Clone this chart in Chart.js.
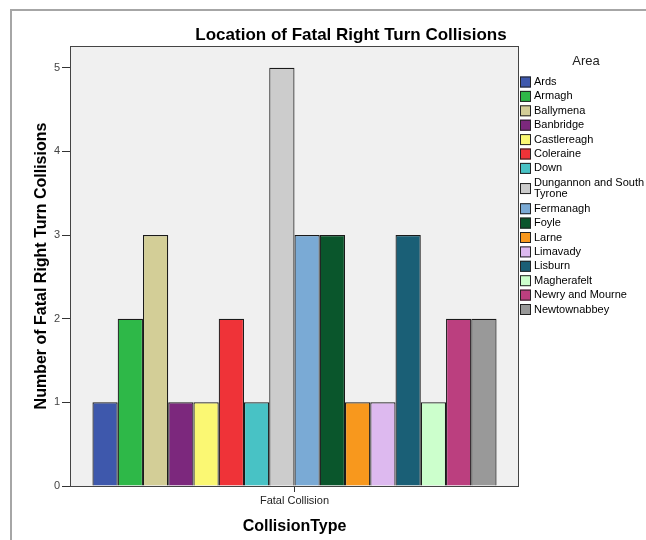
<!DOCTYPE html>
<html>
<head>
<meta charset="utf-8">
<script src="https://cdn.jsdelivr.net/npm/chart.js@4.4.1/dist/chart.umd.min.js"></script>
<style>
  body { margin: 0; background: #fff; }
  #wrap { width: 646px; height: 540px; }
</style>
</head>
<body>
<div id="wrap"><canvas id="miGrafico" width="646" height="540"></canvas></div>
<script>
// datos
const categorias = ['Fatal Collision'];
const areas = ['Ards', 'Armagh', 'Ballymena', 'Banbridge', 'Castlereagh', 'Coleraine', 'Down',
    'Dungannon and South Tyrone', 'Fermanagh', 'Foyle', 'Larne', 'Limavady', 'Lisburn',
    'Magherafelt', 'Newry and Mourne', 'Newtownabbey'];
const colisiones = [1, 2, 3, 1, 1, 2, 1, 5, 3, 3, 1, 1, 3, 1, 2, 2];
const ticksY = [0, 1, 2, 3, 4, 5];

const coloresArea = ['#3E58AC', '#2EB848', '#D3CE97', '#7C287D', '#FBF873', '#EF3338', '#48C2C5',
    '#CCCCCC', '#7AAAD5', '#0A562C', '#F8981D', '#DDB9EF', '#1A5F76', '#CCFFCC', '#BB3F7F', '#999999'];

const FUENTE = '"Liberation Sans", Arial, sans-serif';

// lineas de la leyenda (la de Dungannon va en dos)
const lineasLeyenda = {
    'Dungannon and South Tyrone': ['Dungannon and South', 'Tyrone']
};

const fondoYMarco = {
    id: 'fondoYMarco',
    beforeDraw(chart) {
        const ctx = chart.ctx;
        const a = chart.chartArea;
        ctx.save();
        ctx.fillStyle = '#fff';
        ctx.fillRect(0, 0, chart.width, chart.height);
        // marco exterior
        ctx.strokeStyle = '#a6a6a6';
        ctx.lineWidth = 2;
        ctx.beginPath();
        ctx.moveTo(11, chart.height + 2);
        ctx.lineTo(11, 10);
        ctx.lineTo(chart.width + 2, 10);
        ctx.stroke();
        // fondo del area de datos
        ctx.fillStyle = '#F0F0F0';
        ctx.fillRect(a.left, a.top, a.right - a.left, a.bottom - a.top);
        ctx.restore();
    },
    afterDatasetsDraw(chart) {
        const ctx = chart.ctx;
        const a = chart.chartArea;
        ctx.save();
        ctx.strokeStyle = '#444';
        ctx.lineWidth = 1;
        ctx.strokeRect(a.left + 0.5, a.top + 0.5, a.right - a.left - 1, a.bottom - a.top);

        // titulo
        ctx.fillStyle = '#000';
        ctx.font = 'bold 17px ' + FUENTE;
        ctx.textAlign = 'center';
        ctx.textBaseline = 'middle';
        ctx.fillText('Location of Fatal Right Turn Collisions', 351, 35);

        // leyenda
        ctx.font = '13px ' + FUENTE;
        ctx.fillStyle = '#222';
        ctx.fillText('Area', 586, 61);
        ctx.font = '11px ' + FUENTE;
        ctx.textAlign = 'left';
        let y = 82;
        chart.data.datasets.forEach((ds) => {
            const lineas = lineasLeyenda[ds.label] || [ds.label];
            const alto = lineas.length > 1 ? 11.5 : 0;
            const cy = y + alto / 2;
            ctx.fillStyle = ds.backgroundColor;
            ctx.fillRect(520, cy - 5.5, 11, 11);
            ctx.strokeStyle = '#222';
            ctx.strokeRect(520.5, cy - 5, 10, 10);
            ctx.fillStyle = '#000';
            lineas.forEach((t, i) => ctx.fillText(t, 534, y + i * 11.5));
            y += 14.4 + alto;
        });
        ctx.restore();
    }
};

const datasets = areas.map((area, i) => ({
    label: area,
    data: [colisiones[i]],
    backgroundColor: coloresArea[i],
    borderColor: '#1a1a1a',
    borderWidth: 1.2,
    categoryPercentage: 0.9,
    barPercentage: 1.0
}));

new Chart(document.getElementById('miGrafico').getContext('2d'), {
    type: 'bar',
    data: { labels: categorias, datasets: datasets },
    options: {
        responsive: false,
        animation: false,
        layout: { padding: { left: 0, top: 46, right: 127, bottom: 0 } },
        plugins: {
            legend: { display: false },
            title: { display: false },
            tooltip: { enabled: false }
        },
        scales: {
            x: {
                grid: { display: true, offset: false, drawOnChartArea: false, drawTicks: true, tickLength: 6, color: '#333' },
                border: { display: false },
                ticks: { color: '#222', padding: 2, font: { family: FUENTE, size: 11 } },
                title: {
                    display: true, text: 'CollisionType', color: '#000',
                    font: { family: FUENTE, size: 16, weight: 'bold' },
                    padding: { top: 0, bottom: 3.4 }
                },
                afterFit(scale) { scale.height = 54; }
            },
            y: {
                min: 0,
                max: 5.26,
                grid: { drawOnChartArea: false, drawTicks: true, tickLength: 8, color: '#333' },
                border: { display: false },
                afterBuildTicks(scale) { scale.ticks = ticksY.map(v => ({ value: v })); },
                ticks: { color: '#444', padding: 2, font: { family: FUENTE, size: 11 } },
                title: {
                    display: true, text: 'Number of Fatal Right Turn Collisions', color: '#000',
                    font: { family: FUENTE, size: 16, weight: 'bold' },
                    padding: { top: 32, bottom: 0 }
                },
                afterFit(scale) { scale.width = 70; }
            }
        }
    },
    plugins: [fondoYMarco]
});
</script>
</body>
</html>
